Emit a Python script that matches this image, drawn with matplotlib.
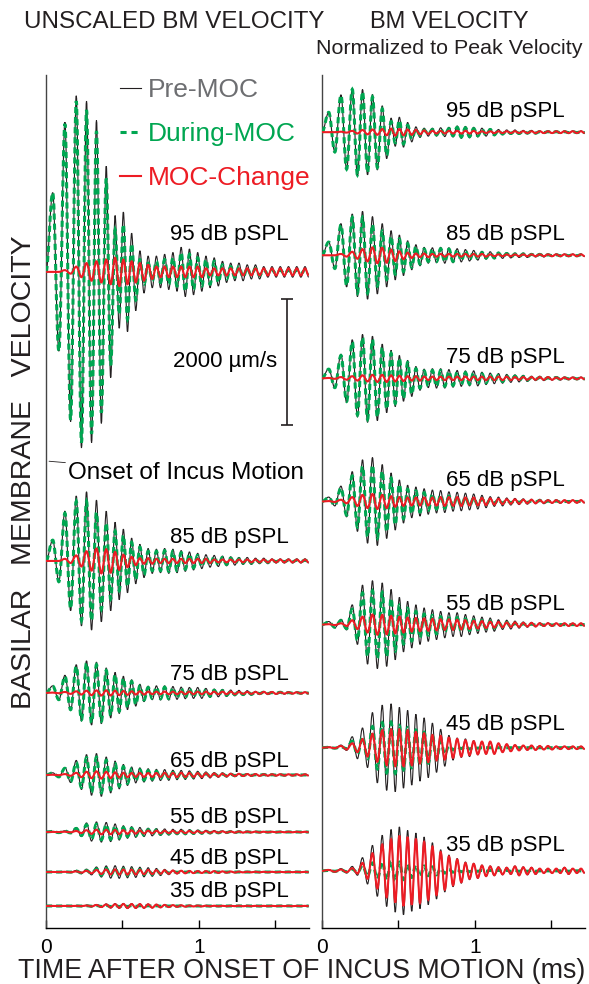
import numpy as np
import matplotlib
matplotlib.use('Agg')
import matplotlib.pyplot as plt
from matplotlib.path import Path
from matplotlib.patches import PathPatch

plt.rcParams['font.family'] = ['Liberation Sans', 'DejaVu Sans']

# sound levels (dB pSPL) and peak velocity of the pre-MOC response (um/s)
levels = ['95', '85', '75', '65', '55', '45', '35']
peak_um = [2800, 1100, 510, 340, 160, 100, 40]

# times of positive peaks / troughs of the click response (ms)
peak_ms = [0.044, 0.124, 0.198, 0.265, 0.330, 0.394, 0.452, 0.506, 0.560, 0.614,
           0.668, 0.722, 0.776, 0.830, 0.884, 0.938, 0.992, 1.046, 1.100, 1.154,
           1.208, 1.262, 1.316, 1.370, 1.424, 1.478, 1.532, 1.586, 1.640, 1.694]
trough_ms = [0.084, 0.161, 0.232, 0.298, 0.362, 0.423, 0.479, 0.533, 0.587, 0.641,
             0.695, 0.749, 0.803, 0.857, 0.911, 0.965, 1.019, 1.073, 1.127, 1.181,
             1.235, 1.289, 1.343, 1.397, 1.451, 1.505, 1.559, 1.613, 1.667, 1.718]

# cycle amplitudes, % of peak pre-MOC velocity
pre_95 = [45, 85, 100, 97, 86, 60, 32, 34, 22, 12, 9, 9, 10, 11, 14, 13, 11, 9, 8, 6,
          5, 5, 4, 4, 3, 3, 3, 3, 3, 3]
chg_95 = [0, 1, 3, 5, 6, 7, 8, 7, 6, 5, 4, 3, 3, 3, 3, 3, 3, 2, 2, 2,
          2, 2, 2, 2, 2, 2, 2, 2, 2, 2]
pre_85 = [30, 72, 94, 100, 88, 72, 56, 46, 33, 24, 18, 17, 18, 17, 15, 13, 11, 9, 8, 7,
          6, 5, 5, 4, 4, 3, 3, 3, 3, 3]
chg_85 = [0, 3, 8, 14, 18, 17, 13, 9, 6, 4, 4, 3, 3, 3, 3, 3, 3, 3, 2, 2,
          2, 2, 2, 2, 2, 2, 2, 2, 2, 2]
pre_75 = [22, 55, 88, 100, 96, 78, 64, 52, 41, 27, 21, 22, 22, 20, 18, 17, 17, 14, 12, 11,
          9, 8, 7, 5, 5, 4, 4, 3, 3, 3]
chg_75 = [1, 3, 5, 7, 8, 8, 7, 6, 5, 5, 4, 4, 4, 4, 4, 4, 4, 4, 4, 4,
          4, 3, 3, 3, 3, 3, 2, 2, 2, 2]
pre_65 = [10, 35, 68, 95, 100, 84, 65, 49, 37, 33, 29, 26, 25, 22, 21, 19, 17, 14, 11, 10,
          8, 7, 6, 5, 5, 4, 4, 3, 3, 3]
chg_65 = [1, 4, 10, 15, 17, 15, 12, 10, 9, 9, 9, 9, 10, 10, 10, 9, 9, 8, 7, 6,
          5, 5, 4, 4, 3, 3, 3, 3, 3, 3]
pre_55 = [7, 12, 45, 90, 100, 95, 80, 62, 53, 45, 38, 34, 30, 27, 27, 23, 20, 17, 15, 11,
          10, 8, 6, 5, 4, 4, 3, 3, 3, 3]
chg_55 = [1, 3, 10, 18, 23, 22, 20, 18, 16, 15, 14, 13, 12, 12, 11, 10, 9, 8, 7, 6,
          5, 5, 4, 4, 3, 3, 3, 3, 3, 3]
pre_45 = [2, 6, 25, 45, 80, 97, 100, 92, 85, 76, 68, 56, 42, 28, 22, 20, 16, 14, 14, 10,
          8, 6, 5, 5, 4, 4, 3, 3, 3, 3]
chg_45 = [1, 4, 10, 20, 32, 40, 42, 42, 40, 36, 33, 29, 27, 23, 20, 17, 15, 14, 14, 10,
          8, 6, 5, 5, 4, 4, 3, 3, 3, 3]
pre_35 = [3, 5, 10, 30, 58, 81, 94, 100, 92, 86, 77, 64, 48, 36, 28, 20, 17, 13, 11, 9,
          8, 11, 9, 8, 5, 5, 5, 8, 5, 5]
chg_35 = [2, 3, 6, 18, 40, 60, 72, 80, 77, 73, 66, 55, 43, 33, 26, 18, 16, 12, 10, 8,
          7, 10, 8, 7, 5, 5, 5, 7, 5, 5]

pre_all = [pre_95, pre_85, pre_75, pre_65, pre_55, pre_45, pre_35]
chg_all = [chg_95, chg_85, chg_75, chg_65, chg_55, chg_45, chg_35]

# layout: trace baselines (um/s on the left, normalized units on the right)
base_left = [10430, 5835, 3737, 2433, 1526, 890, 350]
base_right = [18.1, 15.3, 12.5, 9.7, 6.9, 4.1, 1.3]
lab_dy_left = [37, 23, 18, 13, 15, 14, 14]   # label height above trace, px
lab_dy_right = [21, 21, 21, 21, 20, 23, 25]

BLACK = '#231f20'
GREEN = '#00a651'
RED = '#ed1c24'
GRAY = '#6d6e71'


def wave_path(amps, base, scale):
    # smooth curve through the extrema (horizontal tangent at each one)
    xs = [0.0]
    ys = [0.0]
    for tp, tt, a in zip(peak_ms, trough_ms, amps):
        xs += [tp, tt]
        ys += [a, -a]
    ys = [base + scale * v for v in ys]
    verts = [(xs[0], ys[0])]
    codes = [Path.MOVETO]
    k = 0.36
    for j in range(1, len(xs)):
        h = xs[j] - xs[j - 1]
        verts += [(xs[j - 1] + k * h, ys[j - 1]), (xs[j] - k * h, ys[j]), (xs[j], ys[j])]
        codes += [Path.CURVE4] * 3
    return Path(verts, codes)


fig = plt.figure(figsize=(5.89, 9.84), dpi=100)
axL = fig.add_axes([46 / 589, 56 / 984, 263 / 589, 853 / 984])
axR = fig.add_axes([322 / 589, 56 / 984, 263 / 589, 853 / 984])

for i, lev in enumerate(levels):
    pre = np.array(pre_all[i]) / 100.0
    chg = np.array(chg_all[i]) / 100.0
    dur = pre - chg
    for ax, scale, base, dy in [(axL, peak_um[i], base_left[i], lab_dy_left[i]),
                                (axR, 1.0, base_right[i], lab_dy_right[i])]:
        ax.add_patch(PathPatch(wave_path(pre, base, scale), fill=False,
                               edgecolor=BLACK, lw=0.8, zorder=2))
        ax.add_patch(PathPatch(wave_path(dur, base, scale), fill=False,
                               edgecolor=GREEN, lw=2.2, linestyle=(0, (2.0, 1.3)),
                               zorder=3))
        ax.add_patch(PathPatch(wave_path(chg, base, scale), fill=False,
                               edgecolor=RED, lw=1.5, zorder=4))
        ax.annotate(lev + ' dB pSPL', xy=(1.59, base), xytext=(0, dy * 0.72),
                    textcoords='offset points', ha='right', va='center', fontsize=16)

axL.set_ylim(0, 13560)
axR.set_ylim(0, 19.4)
for ax in (axL, axR):
    ax.set_xlim(0, 1.72)
    ax.set_xticks([0, 0.5, 1, 1.5])
    ax.set_xticklabels(['0', '', '1', ''])
    ax.tick_params(axis='x', direction='in', length=6, width=1, labelsize=15, pad=7)
    ax.set_yticks([])
    ax.spines['top'].set_visible(False)
    ax.spines['right'].set_visible(False)
    ax.spines['left'].set_color('#444444')
    ax.spines['left'].set_linewidth(1.0)
    ax.spines['bottom'].set_linewidth(1.0)
    ax.patch.set_visible(False)

# legend
h1, = axL.plot([], [], color=BLACK, lw=0.8, label='Pre-MOC')
h2, = axL.plot([], [], color=GREEN, lw=2.2, dashes=(2.0, 1.6), label='During-MOC')
h3, = axL.plot([], [], color=RED, lw=1.5, label='MOC-Change')
leg = axL.legend(handles=[h1, h2, h3], loc='upper left', bbox_to_anchor=(0.24, 1.009),
                 frameon=False, fontsize=19, handlelength=0.8, handletextpad=0.28,
                 labelspacing=0.76, borderaxespad=0)
for txt, c in zip(leg.get_texts(), [GRAY, GREEN, RED]):
    txt.set_color(c)

# scale bar
axL.errorbar(1.575, 9000, yerr=1000, color=BLACK, capsize=4, lw=1.2, capthick=1.2)
axL.text(1.51, 9000, '2000 \u00b5m/s', ha='right', va='center', fontsize=16)

axL.annotate('Onset of Incus Motion', xy=(0.02, 7420), xytext=(0.145, 7234),
             ha='left', va='center', fontsize=17.5,
             arrowprops=dict(arrowstyle='-', lw=0.6, color=BLACK, shrinkA=0, shrinkB=0))

fig.text(24 / 589, 1 - 22 / 984, 'UNSCALED BM VELOCITY', ha='left', va='center',
         fontsize=17.4, color=BLACK)
fig.text(449 / 589, 1 - 22 / 984, 'BM VELOCITY', ha='center', va='center',
         fontsize=17, color=BLACK)
fig.text(449 / 589, 1 - 49 / 984, 'Normalized to Peak Velocity', ha='center',
         va='center', fontsize=15.4, color=BLACK)
fig.text(302 / 589, 1 - 971 / 984, 'TIME AFTER ONSET OF INCUS MOTION (ms)',
         ha='center', va='center', fontsize=19.3, color=BLACK)
fig.text(24 / 589, 1 - 472 / 984, 'BASILAR   MEMBRANE   VELOCITY', rotation=90,
         ha='center', va='center', fontsize=20.5, color=BLACK)

fig.savefig('out.png', dpi=100)
